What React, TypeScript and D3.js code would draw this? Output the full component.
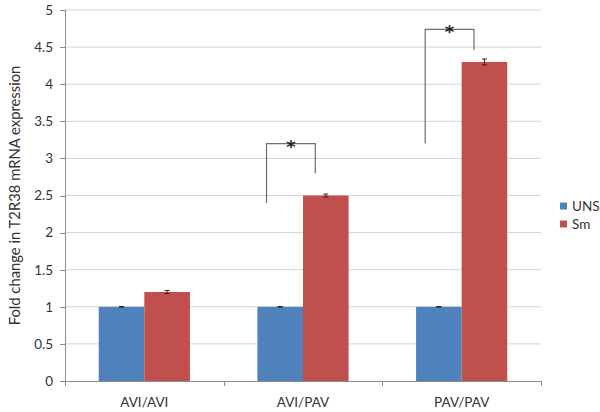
import { useEffect, useRef } from "react";
import * as d3 from "d3";

const categories = ["AVI/AVI", "AVI/PAV", "PAV/PAV"];
const seriesNames = ["UNS", "Sm"];
const seriesColors = ["#4f81bd", "#c0504d"];
const unsValues = [1, 1, 1];
const smValues = [1.2, 2.5, 4.3];
const unsErrors = [0.004, 0.004, 0.004];
const smErrors = [0.02, 0.02, 0.04];
const yTicks = [0, 0.5, 1, 1.5, 2, 2.5, 3, 3.5, 4, 4.5, 5];
// significance brackets: category, left-leg bottom, top, right-leg bottom
const brackets = [
  { cat: "AVI/PAV", leftBottom: 2.4, top: 3.2, rightBottom: 2.8 },
  { cat: "PAV/PAV", leftBottom: 3.2, top: 4.74, rightBottom: 4.46 },
];

export default function App(): JSX.Element {
  const ref = useRef<SVGSVGElement | null>(null);

  useEffect(() => {
    if (!ref.current) return;
    const width = 600;
    const height = 412;
    const left = 65;
    const right = 541;
    const top = 10;
    const bottom = 381;
    const font = "Lato, 'Open Sans', sans-serif";

    const svg = d3.select(ref.current);
    svg.selectAll("*").remove();

    const x = d3.scaleBand<string>().domain(categories).range([left, right]).padding(0);
    const inner = d3
      .scaleBand<string>()
      .domain(seriesNames)
      .range([0, x.bandwidth()])
      .paddingInner(0)
      .paddingOuter(0.74);
    const y = d3.scaleLinear().domain([0, 5]).range([bottom, top]);

    // gridlines
    svg
      .append("g")
      .selectAll("line")
      .data(yTicks.filter((t) => t > 0))
      .join("line")
      .attr("x1", left)
      .attr("x2", right)
      .attr("y1", (d) => y(d))
      .attr("y2", (d) => y(d))
      .attr("stroke", "#d4d4d4")
      .attr("stroke-width", 1);

    const rows = categories.map((c, i) => [
      { cat: c, s: 0, v: unsValues[i], e: unsErrors[i] },
      { cat: c, s: 1, v: smValues[i], e: smErrors[i] },
    ]).flat();

    svg
      .append("g")
      .selectAll("rect")
      .data(rows)
      .join("rect")
      .attr("x", (d) => (x(d.cat) ?? 0) + (inner(seriesNames[d.s]) ?? 0))
      .attr("y", (d) => y(d.v))
      .attr("width", inner.bandwidth())
      .attr("height", (d) => y(0) - y(d.v))
      .attr("fill", (d) => seriesColors[d.s]);

    // error bars
    const eg = svg.append("g").attr("stroke", "#3a2020").attr("stroke-width", 1);
    rows.forEach((d) => {
      const cx = (x(d.cat) ?? 0) + (inner(seriesNames[d.s]) ?? 0) + inner.bandwidth() / 2;
      const y1 = y(d.v + d.e);
      const y2 = y(d.v - d.e);
      eg.append("line").attr("x1", cx).attr("x2", cx).attr("y1", y1).attr("y2", y2);
      eg.append("line").attr("x1", cx - 2.5).attr("x2", cx + 2.5).attr("y1", y1).attr("y2", y1);
      eg.append("line").attr("x1", cx - 2.5).attr("x2", cx + 2.5).attr("y1", y2).attr("y2", y2);
    });

    // axes
    const axisColor = "#8c8c8c";
    svg
      .append("line")
      .attr("x1", left + 0.5)
      .attr("x2", left + 0.5)
      .attr("y1", top)
      .attr("y2", bottom)
      .attr("stroke", axisColor);
    svg
      .append("line")
      .attr("x1", left - 5)
      .attr("x2", right)
      .attr("y1", bottom + 0.5)
      .attr("y2", bottom + 0.5)
      .attr("stroke", axisColor);

    svg
      .append("g")
      .selectAll("line")
      .data(yTicks)
      .join("line")
      .attr("x1", left - 5)
      .attr("x2", left)
      .attr("y1", (d) => Math.round(y(d)) + 0.5)
      .attr("y2", (d) => Math.round(y(d)) + 0.5)
      .attr("stroke", axisColor);

    svg
      .append("g")
      .selectAll("text")
      .data(yTicks)
      .join("text")
      .attr("x", left - 12)
      .attr("y", (d) => y(d) + 4.8)
      .attr("text-anchor", "end")
      .attr("font-family", font)
      .attr("font-size", 13.5)
      .attr("fill", "#333")
      .text((d) => String(d));

    const xEdges = categories.map((c) => x(c) ?? 0).concat([right]);
    svg
      .append("g")
      .selectAll("line")
      .data(xEdges)
      .join("line")
      .attr("x1", (d) => Math.round(d) + 0.5)
      .attr("x2", (d) => Math.round(d) + 0.5)
      .attr("y1", bottom)
      .attr("y2", bottom + 5)
      .attr("stroke", axisColor);

    svg
      .append("g")
      .selectAll("text")
      .data(categories)
      .join("text")
      .attr("x", (d) => (x(d) ?? 0) + x.bandwidth() / 2)
      .attr("y", 407)
      .attr("text-anchor", "middle")
      .attr("font-family", font)
      .attr("font-size", 13.5)
      .attr("fill", "#333")
      .text((d) => d);

    svg
      .append("text")
      .attr("transform", `translate(20, ${(top + bottom) / 2}) rotate(-90)`)
      .attr("text-anchor", "middle")
      .attr("font-family", font)
      .attr("font-size", 14.8)
      .attr("fill", "#333")
      .text("Fold change in T2R38 mRNA expression");

    // significance brackets
    const bg = svg.append("g");
    brackets.forEach((b) => {
      const x0 = x(b.cat) ?? 0;
      const lx = x0 + (inner("UNS") ?? 0) + inner.bandwidth() * 0.2;
      const rx = x0 + (inner("Sm") ?? 0) + inner.bandwidth() * 0.27;
      bg.append("path")
        .attr("d", `M${lx},${y(b.leftBottom)} V${y(b.top)} H${rx} V${y(b.rightBottom)}`)
        .attr("fill", "none")
        .attr("stroke", "#6e6e6e")
        .attr("stroke-width", 1.2);
      bg.append("text")
        .attr("x", (lx + rx) / 2)
        .attr("y", y(b.top) + 9)
        .attr("text-anchor", "middle")
        .attr("font-family", "'DejaVu Sans', sans-serif")
        .attr("font-weight", "bold")
        .attr("font-size", 18)
        .attr("fill", "#222")
        .text("*");
    });

    // legend
    const lg = svg.append("g");
    seriesNames.forEach((s, i) => {
      const ly = 206 + i * 18;
      lg.append("rect")
        .attr("x", 560)
        .attr("y", ly - 3.5)
        .attr("width", 7)
        .attr("height", 7)
        .attr("fill", seriesColors[i]);
      lg.append("text")
        .attr("x", 572)
        .attr("y", ly + 4.8)
        .attr("font-family", font)
        .attr("font-size", 13.5)
        .attr("fill", "#333")
        .text(s);
    });

    svg.attr("width", width).attr("height", height);
  }, []);

  return (
    <svg
      ref={ref}
      width={600}
      height={412}
      style={{ position: "absolute", left: 0, top: 0, background: "#fff" }}
    />
  );
}
